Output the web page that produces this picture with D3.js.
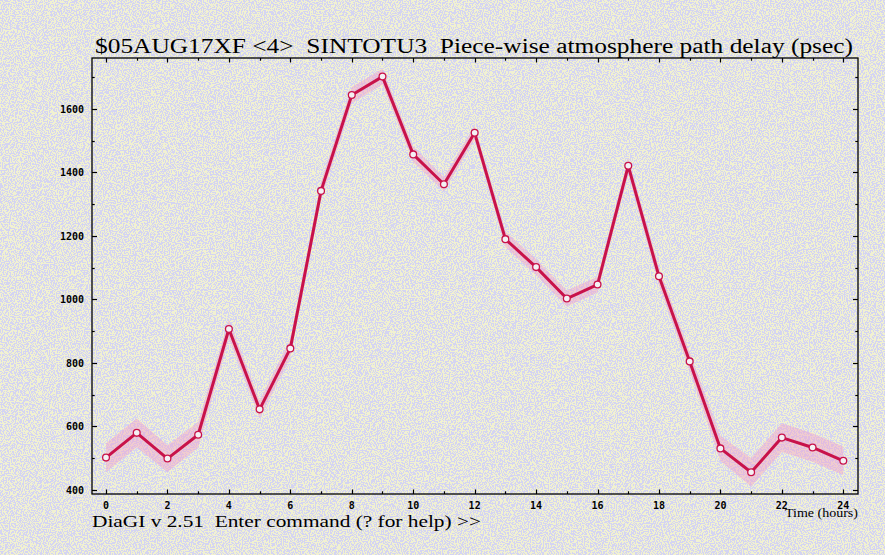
<!DOCTYPE html>
<html>
<head>
<meta charset="utf-8">
<script src="https://cdn.jsdelivr.net/npm/d3@7"></script>
<style>
  html, body { margin: 0; padding: 0; background: #d8d8e4; }
  svg { display: block; }
</style>
</head>
<body>
<div id="chart"></div>
<script>
// ---- data ----
const hours = [0,1,2,3,4,5,6,7,8,9,10,11,12,13,14,15,16,17,18,19,20,21,22,23,24];
const delay = [502,580,499,574,907,654,846,1342,1644,1702,1457,1363,1525,1190,1102,1003,1047,1421,1073,805,531,456,565,534,492];
const delayErr = [45,45,42,40,30,28,28,28,25,25,25,22,22,25,25,25,25,25,28,30,40,45,45,45,45];
const xTickValues = [0,2,4,6,8,10,12,14,16,18,20,22,24];
const xMinorValues = d3.range(0, 25, 1);
const yTickValues = [400,600,800,1000,1200,1400,1600];
const yMinorValues = d3.range(400, 1701, 100);
const titleText = "$05AUG17XF <4>  SINTOTU3  Piece-wise atmosphere path delay (psec)";
const footerText = "DiaGI v 2.51  Enter command (? for help) >>";
const xAxisLabel = "Time (hours)";

const W = 885, H = 555;
const L = 92, R = 858, T = 58, B = 494;

const svg = d3.select("#chart").append("svg").attr("width", W).attr("height", H);

// background noise texture
const defs = svg.append("defs");
const f = defs.append("filter").attr("id", "speck").attr("x", 0).attr("y", 0).attr("width", "100%").attr("height", "100%");
f.append("feTurbulence").attr("type", "fractalNoise").attr("baseFrequency", 0.85).attr("numOctaves", 1).attr("seed", 3).attr("result", "n");
f.append("feColorMatrix").attr("in", "n").attr("type", "matrix")
  .attr("values", "0 0 0 0 0.88  0 0 0 0 0.88  0 0 0 0 0.64  1 0 0 0 0").attr("result", "c");
f.append("feComponentTransfer").attr("in", "c")
  .append("feFuncA").attr("type", "discrete").attr("tableValues", "0 0 0 0 1 1 1 1");

svg.append("rect").attr("width", W).attr("height", H).attr("fill", "#d4d4f2");
svg.append("rect").attr("width", W).attr("height", H).attr("filter", "url(#speck)");

const x = d3.scaleLinear().domain([-0.456, 24.479]).range([L, R]);
const y = d3.scaleLinear().domain([387.4, 1760.6]).range([B, T]);

// error band
const area = d3.area()
  .x((d, i) => x(hours[i]))
  .y0((d, i) => y(delay[i] - delayErr[i]))
  .y1((d, i) => y(delay[i] + delayErr[i]));
svg.append("path").datum(delay).attr("d", area)
  .attr("fill", "#f0a0cc").attr("opacity", 0.45);

// frame
svg.append("rect").attr("x", L).attr("y", T).attr("width", R - L).attr("height", B - T)
  .attr("fill", "none").attr("stroke", "#000").attr("stroke-width", 1.3);

const tickG = svg.append("g").attr("stroke", "#000").attr("stroke-width", 1.2);
xMinorValues.forEach(v => {
  const len = (v % 2 === 0) ? 4.5 : 2.7;
  const px = Math.round(x(v)) + 0.5;
  tickG.append("line").attr("x1", px).attr("x2", px).attr("y1", B).attr("y2", B - len);
  tickG.append("line").attr("x1", px).attr("x2", px).attr("y1", T).attr("y2", T + len);
});
yMinorValues.forEach(v => {
  const len = (v % 200 === 0) ? 5 : 2.7;
  const py = Math.round(y(v)) + 0.5;
  tickG.append("line").attr("x1", L).attr("x2", L + len).attr("y1", py).attr("y2", py);
  tickG.append("line").attr("x1", R).attr("x2", R - len).attr("y1", py).attr("y2", py);
});

// tick labels
const lblFont = "'DejaVu Sans Mono', monospace";
svg.append("g").selectAll("text").data(xTickValues).join("text")
  .attr("x", d => x(d)).attr("y", 508.5)
  .attr("text-anchor", "middle").attr("font-family", lblFont).attr("font-weight", "bold")
  .attr("font-size", 10).attr("fill", "#000").text(d => d);
svg.append("g").selectAll("text").data(yTickValues).join("text")
  .attr("x", 84).attr("y", d => y(d) + 3.6)
  .attr("text-anchor", "end").attr("font-family", lblFont).attr("font-weight", "bold")
  .attr("font-size", 10).attr("fill", "#000").text(d => d);

// line and markers
const line = d3.line().x((d, i) => x(hours[i])).y(d => y(d));
svg.append("path").datum(delay).attr("d", line)
  .attr("fill", "none").attr("stroke", "#c8124a").attr("stroke-width", 3).attr("stroke-linejoin", "round");
svg.append("g").selectAll("circle").data(delay).join("circle")
  .attr("cx", (d, i) => x(hours[i])).attr("cy", d => y(d)).attr("r", 3.4)
  .attr("fill", "#f4f0f4").attr("stroke", "#c8124a").attr("stroke-width", 1.3);

// texts
svg.append("text").attr("x", 95).attr("y", 52.5)
  .attr("font-family", "'Liberation Serif', serif").attr("font-size", 20)
  .attr("textLength", 758).attr("lengthAdjust", "spacingAndGlyphs")
  .style("white-space", "pre").attr("fill", "#000").text(titleText);
svg.append("text").attr("x", 92).attr("y", 527)
  .attr("font-family", "'Liberation Serif', serif").attr("font-size", 16)
  .attr("textLength", 389).attr("lengthAdjust", "spacingAndGlyphs")
  .style("white-space", "pre").attr("fill", "#000").text(footerText);
svg.append("text").attr("x", 785).attr("y", 517)
  .attr("font-family", "'Liberation Serif', serif").attr("font-size", 11.5)
  .attr("textLength", 73).attr("lengthAdjust", "spacingAndGlyphs")
  .attr("fill", "#000").text(xAxisLabel);
</script>
</body>
</html>
